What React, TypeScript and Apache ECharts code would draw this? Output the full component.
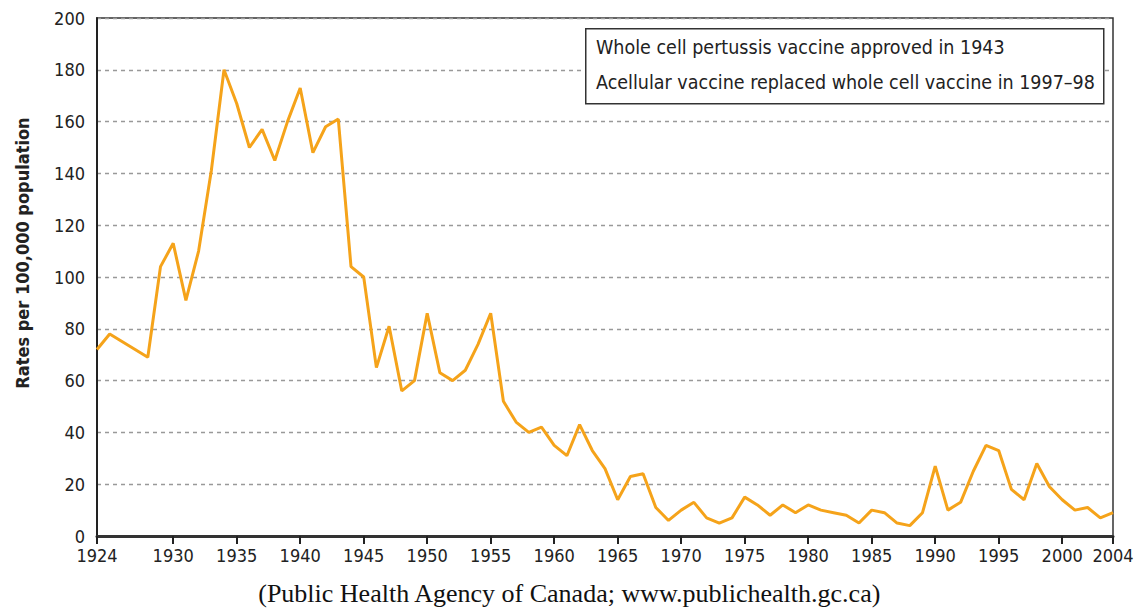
import React, { useEffect, useRef } from "react";
import * as echarts from "echarts";

const years = [
  1924, 1925, 1926, 1927, 1928, 1929, 1930, 1931, 1932, 1933, 1934, 1935, 1936, 1937, 1938, 1939,
  1940, 1941, 1942, 1943, 1944, 1945, 1946, 1947, 1948, 1949, 1950, 1951, 1952, 1953, 1954, 1955,
  1956, 1957, 1958, 1959, 1960, 1961, 1962, 1963, 1964, 1965, 1966, 1967, 1968, 1969, 1970, 1971,
  1972, 1973, 1974, 1975, 1976, 1977, 1978, 1979, 1980, 1981, 1982, 1983, 1984, 1985, 1986, 1987,
  1988, 1989, 1990, 1991, 1992, 1993, 1994, 1995, 1996, 1997, 1998, 1999, 2000, 2001, 2002, 2003,
  2004,
];
const rates = [
  72, 78, 75, 72, 69, 104, 113, 91, 110, 141, 180, 167, 150, 157, 145, 160,
  173, 148, 158, 161, 104, 100, 65, 81, 56, 60, 86, 63, 60, 64, 74, 86,
  52, 44, 40, 42, 35, 31, 43, 33, 26, 14, 23, 24, 11, 6, 10, 13,
  7, 5, 7, 15, 12, 8, 12, 9, 12, 10, 9, 8, 5, 10, 9, 5,
  4, 9, 27, 10, 13, 25, 35, 33, 18, 14, 28, 19, 14, 10, 11, 7,
  9,
];
const xTicks = [1924, 1930, 1935, 1940, 1945, 1950, 1955, 1960, 1965, 1970, 1975, 1980, 1985, 1990, 1995, 2000, 2004];
const legendLines = [
  "Whole cell pertussis vaccine approved in 1943",
  "Acellular vaccine replaced whole cell vaccine in 1997\u201398",
];
const yTitle = "Rates per 100,000 population";
const caption = "(Public Health Agency of Canada; www.publichealth.gc.ca)";

const FONT = "'Liberation Sans Narrow', 'DejaVu Sans Condensed', 'Roboto Condensed', sans-serif";

export default function App() {
  const ref = useRef<HTMLDivElement>(null);
  useEffect(() => {
    if (!ref.current) return;
    const chart = echarts.init(ref.current, null, { renderer: "svg" });
    chart.setOption({
      animation: false,
      backgroundColor: "#ffffff",
      grid: {
        left: 97,
        right: 27,
        top: 18,
        bottom: 74,
        show: true,
        borderColor: "#333",
        borderWidth: 1.5,
      },
      xAxis: {
        type: "value",
        min: 1924,
        max: 2004,
        splitLine: { show: false },
        axisLine: { show: true, onZero: false, lineStyle: { color: "#333", width: 3 } },
        axisTick: {
          show: true,
          customValues: xTicks,
          length: 8,
          lineStyle: { color: "#222", width: 2 },
        },
        axisLabel: {
          customValues: xTicks,
          fontFamily: FONT,
          fontSize: 18,
          color: "#222",
          margin: 10,
          formatter: (v: number) => String(v),
        },
      },
      yAxis: {
        type: "value",
        min: 0,
        max: 200,
        interval: 20,
        axisLine: { show: true, lineStyle: { color: "#222", width: 2 } },
        axisTick: { show: false },
        axisLabel: { fontFamily: FONT, fontSize: 18, color: "#222", margin: 12 },
        splitLine: { show: true, lineStyle: { color: "#999", type: [4, 4], width: 1.3 } },
      },
      series: [
        {
          type: "line",
          data: years.map((y, i) => [y, rates[i]]),
          showSymbol: false,
          lineStyle: { color: "#F5A31A", width: 3 },
          itemStyle: { color: "#F5A31A" },
          z: 5,
        },
      ],
      graphic: [
        {
          type: "text",
          x: 22,
          y: 253,
          rotation: Math.PI / 2,
          style: {
            text: yTitle,
            fontFamily: FONT,
            fontSize: 18,
            fontWeight: "bold",
            fill: "#222",
            align: "center",
            verticalAlign: "middle",
          },
        },
        {
          type: "rect",
          left: 585,
          top: 28,
          shape: { width: 518, height: 75 },
          style: { fill: "#fff", stroke: "#333", lineWidth: 1.5 },
          z: 10,
        },
        {
          type: "text",
          left: 596,
          top: 37,
          style: { text: legendLines[0], fontFamily: FONT, fontSize: 19.5, fill: "#222" },
          z: 11,
        },
        {
          type: "text",
          left: 596,
          top: 72,
          style: { text: legendLines[1], fontFamily: FONT, fontSize: 19.5, fill: "#222" },
          z: 11,
        },
        {
          type: "text",
          left: "center",
          top: 580,
          style: { text: caption, fontFamily: "'Liberation Serif', 'DejaVu Serif', serif", fontSize: 26, fill: "#111" },
        },
      ],
    });
    return () => chart.dispose();
  }, []);
  return (
    <div
      ref={ref}
      style={{ position: "fixed", left: 0, top: 0, width: 1140, height: 610, background: "#fff" }}
    />
  );
}
